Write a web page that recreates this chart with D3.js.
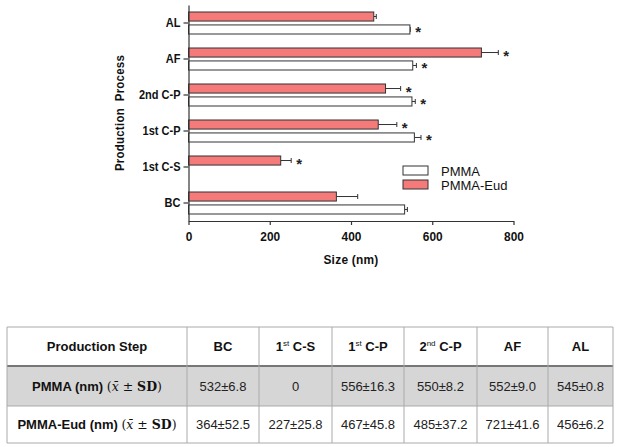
<!DOCTYPE html>
<html>
<head>
<meta charset="utf-8">
<script src="https://cdn.jsdelivr.net/npm/d3@7"></script>
<style>
  body { margin: 0; background: #fff; }
  svg { display: block; font-family: Arial, "Liberation Sans", sans-serif; }
</style>
</head>
<body>
<div id="chart"></div>
<script>
// categories bottom -> top as in the table
const categories = ["BC", "1st C-S", "1st C-P", "2nd C-P", "AF", "AL"];
const pmmaMean = [532, 0, 556, 550, 552, 545];
const pmmaSd   = [6.8, 0, 16.3, 8.2, 9.0, 0.8];
const eudMean  = [364, 227, 467, 485, 721, 456];
const eudSd    = [52.5, 25.8, 45.8, 37.2, 41.6, 6.2];
const pmmaStar = [false, false, true, true, true, true];
const eudStar  = [false, true, true, true, true, false];
const xTicks   = [0, 200, 400, 600, 800];
const seriesNames = ["PMMA", "PMMA-Eud"];

// table text
const tableHead = ["Production Step", "BC", ["1", "st", " C-S"], ["1", "st", " C-P"], ["2", "nd", " C-P"], "AF", "AL"];
const pmmaCells = ["532±6.8", "0", "556±16.3", "550±8.2", "552±9.0", "545±0.8"];
const eudCells  = ["364±52.5", "227±25.8", "467±45.8", "485±37.2", "721±41.6", "456±6.2"];

const W = 624, H = 447;
const red = "#f57b7b";
const stroke = "#333";
const squeeze = 0.88; // horizontal squeeze to mimic the condensed axis font

const svg = d3.select("#chart").append("svg")
  .attr("width", W).attr("height", H);

// ---- chart ----
const plot = {left: 188.5, right: 513.5, top: 5, bottom: 221};

const x = d3.scaleLinear().domain([0, 800]).range([plot.left, plot.right]);
const y = d3.scaleBand().domain(categories.slice().reverse()).range([plot.top, plot.bottom]);
// red bar on top, white below
const sub = d3.scaleBand().domain(["eud", "pmma"]).range([7, 29]).paddingInner(0.3);

const rows = categories.map((c, i) => ([
  {cat: c, key: "eud", v: eudMean[i], sd: eudSd[i], star: eudStar[i]},
  {cat: c, key: "pmma", v: pmmaMean[i], sd: pmmaSd[i], star: pmmaStar[i]}
])).flat();

const g = svg.append("g");

const bars = g.selectAll(".bar").data(rows.filter(d => d.v > 0)).enter();

// error bars (positive side only)
bars.append("line")
  .attr("x1", d => x(d.v)).attr("x2", d => x(d.v + d.sd))
  .attr("y1", d => y(d.cat) + sub(d.key) + sub.bandwidth() / 2)
  .attr("y2", d => y(d.cat) + sub(d.key) + sub.bandwidth() / 2)
  .attr("stroke", stroke).attr("stroke-width", 1);
bars.append("line")
  .attr("x1", d => x(d.v + d.sd)).attr("x2", d => x(d.v + d.sd))
  .attr("y1", d => y(d.cat) + sub(d.key) + sub.bandwidth() / 2 - 2.5)
  .attr("y2", d => y(d.cat) + sub(d.key) + sub.bandwidth() / 2 + 2.5)
  .attr("stroke", stroke).attr("stroke-width", 1);

bars.append("rect")
  .attr("x", x(0))
  .attr("y", d => y(d.cat) + sub(d.key))
  .attr("width", d => x(d.v) - x(0))
  .attr("height", sub.bandwidth())
  .attr("fill", d => d.key === "eud" ? red : "#fff")
  .attr("stroke", stroke).attr("stroke-width", 1);

// significance stars
g.selectAll(".star").data(rows.filter(d => d.star)).enter()
  .append("text")
  .attr("x", d => x(d.v + d.sd) + 5)
  .attr("y", d => y(d.cat) + sub(d.key) + sub.bandwidth() / 2 + 8)
  .attr("font-size", 15).attr("font-weight", "bold").attr("fill", "#222")
  .text("*");

// axes
const xAxis = g.append("g")
  .attr("transform", `translate(0,${plot.bottom})`)
  .call(d3.axisBottom(x).tickValues(xTicks).tickSize(4).tickSizeOuter(0));
const yAxis = g.append("g")
  .attr("transform", `translate(${plot.left},0)`)
  .call(d3.axisLeft(y).tickSize(5).tickSizeOuter(0).tickPadding(3));

[xAxis, yAxis].forEach(a => {
  a.selectAll("path, line").attr("stroke", stroke).attr("stroke-width", 1.2);
  a.selectAll("text").attr("font-family", "Arial, 'Liberation Sans', sans-serif")
    .attr("font-weight", "bold").attr("fill", "#111")
    .attr("transform", `scale(${squeeze},1)`);
});
xAxis.selectAll("text").attr("font-size", 13.5).attr("dy", "1.0em");
yAxis.selectAll("text").attr("font-size", 12.5).attr("x", -8 / squeeze);

g.append("text")
  .attr("transform", `translate(${(plot.left + plot.right) / 2},264) scale(${squeeze},1)`)
  .attr("text-anchor", "middle")
  .attr("font-size", 13.5).attr("font-weight", "bold").attr("fill", "#111")
  .attr("letter-spacing", 0.3)
  .text("Size (nm)");

g.append("text")
  .attr("transform", `translate(124,${(plot.top + plot.bottom) / 2}) rotate(-90) scale(${squeeze},1)`)
  .attr("text-anchor", "middle")
  .attr("font-size", 13).attr("font-weight", "bold").attr("fill", "#111")
  .attr("letter-spacing", 0.3)
  .text("Production\u00a0\u00a0Process");

// legend
const legend = g.append("g").attr("transform", "translate(403,166)");
seriesNames.forEach((name, i) => {
  legend.append("rect")
    .attr("x", 0).attr("y", i * 14).attr("width", 25).attr("height", 9)
    .attr("fill", i === 0 ? "#fff" : red).attr("stroke", stroke).attr("stroke-width", 1);
  legend.append("text")
    .attr("x", 38).attr("y", i * 14 + 10)
    .attr("font-size", 13).attr("fill", "#111")
    .text(name);
});

// ---- table ----
const colEdges = [7, 187, 259, 332, 404, 477, 548, 613];
const rowEdges = [327, 366, 406, 443];

const t = svg.append("g");
t.append("rect")
  .attr("x", colEdges[0]).attr("y", rowEdges[1])
  .attr("width", colEdges[7] - colEdges[0]).attr("height", rowEdges[2] - rowEdges[1])
  .attr("fill", "#d6d6d6");

// grid lines
rowEdges.forEach((ry, i) => {
  t.append("line")
    .attr("x1", colEdges[0]).attr("x2", colEdges[7])
    .attr("y1", ry).attr("y2", ry)
    .attr("stroke", i === 1 ? "#777" : "#aaa")
    .attr("stroke-width", i === 1 ? 2 : 1);
});
colEdges.forEach(cx => {
  t.append("line")
    .attr("x1", cx).attr("x2", cx)
    .attr("y1", rowEdges[0]).attr("y2", rowEdges[3])
    .attr("stroke", "#aaa").attr("stroke-width", 1);
});

const colMid = i => (colEdges[i] + colEdges[i + 1]) / 2;
const rowMid = i => (rowEdges[i] + rowEdges[i + 1]) / 2 + 4.5;

// header
tableHead.forEach((h, i) => {
  const txt = t.append("text")
    .attr("x", colMid(i)).attr("y", rowMid(0))
    .attr("text-anchor", "middle").attr("font-size", 13)
    .attr("font-weight", "bold").attr("fill", "#111");
  if (Array.isArray(h)) {
    txt.append("tspan").text(h[0]);
    txt.append("tspan").attr("font-size", 8).attr("font-weight", "normal")
      .attr("dy", -5).text(h[1]);
    txt.append("tspan").attr("dy", 5).text(h[2]);
  } else {
    txt.text(h);
  }
});

// row labels with serif (x̄ ± SD)
function rowLabel(label, ri) {
  const txt = t.append("text")
    .attr("x", colMid(0)).attr("y", rowMid(ri))
    .attr("text-anchor", "middle").attr("font-size", 13).attr("fill", "#111");
  txt.append("tspan").attr("font-weight", "bold").text(label + " ");
  const s = txt.append("tspan").attr("font-family", "'DejaVu Serif', 'Liberation Serif', serif")
    .attr("font-size", 12.5);
  s.append("tspan").text("(");
  s.append("tspan").attr("font-style", "italic").text("x\u0304");
  s.append("tspan").text(" \u00b1 ");
  s.append("tspan").attr("font-weight", "bold").text("SD");
  s.append("tspan").text(")");
}
rowLabel("PMMA (nm)", 1);
rowLabel("PMMA-Eud (nm)", 2);

[pmmaCells, eudCells].forEach((cells, r) => {
  cells.forEach((c, i) => {
    t.append("text")
      .attr("x", colMid(i + 1)).attr("y", rowMid(r + 1))
      .attr("text-anchor", "middle").attr("font-size", 13).attr("fill", "#222")
      .text(c);
  });
});
</script>
</body>
</html>
